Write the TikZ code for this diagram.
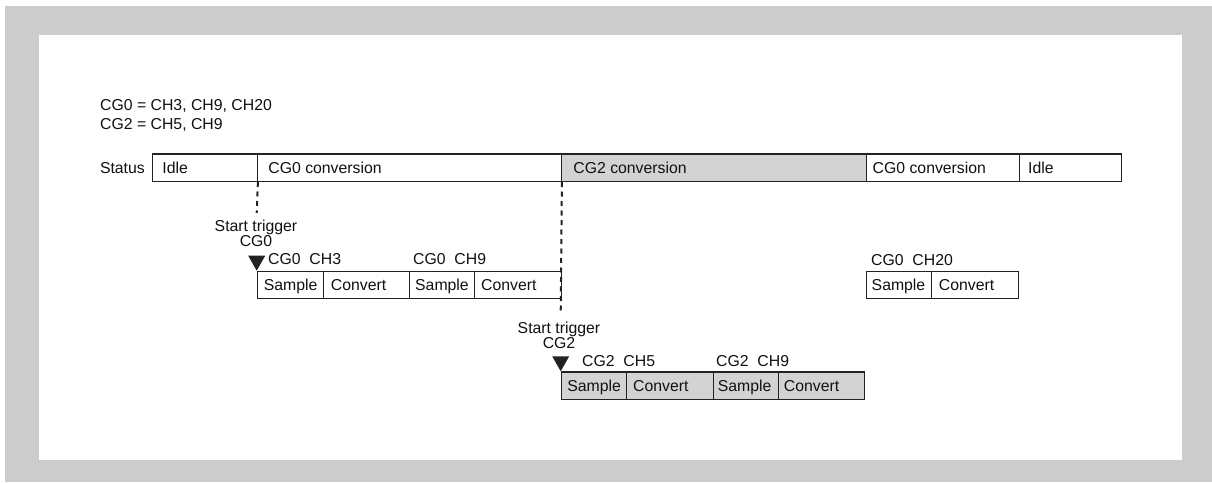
\documentclass[tikz,border=0pt]{standalone}
\usepackage{fontspec}
\setmainfont{Liberation Sans}
\definecolor{bggray}{HTML}{CCCCCC}
\definecolor{cellgray}{HTML}{D3D3D3}
\definecolor{linec}{HTML}{222222}
\definecolor{txt}{HTML}{111111}
\begin{document}
\begin{tikzpicture}[x=1pt,y=-1pt,
  cell/.style={draw=linec, line width=1.2pt, inner sep=0pt, minimum height=27.4pt, anchor=north west},
  graycell/.style={cell, fill=cellgray},
  lbl/.style={inner sep=0pt, font=\fontsize{15.8}{18}\selectfont, text=txt},
  celltxt/.style={lbl, anchor=base west},
  dashline/.style={draw=linec, line width=2pt, dash pattern=on 5pt off 4.5pt},
  trig/.style={fill=linec, draw=none}
]
\useasboundingbox (0,0) rectangle (1212,482);
\fill[bggray] (5,6) rectangle (1212,482);
\fill[white] (39,35) rectangle (1182,460);

% definitions
\node[lbl, anchor=base west] (def0) at (100,110.5) {CG0 = CH3, CH9, CH20};
\node[lbl, anchor=base west] (def2) at (100,129) {CG2 = CH5, CH9};

% status bar
\node[lbl, anchor=base east] (status) at (145,173) {Status};
\node[cell, minimum width=105pt] (idleA) at (151.7,153.4) {};
\node[cell, minimum width=304pt] (convA) at (256.7,153.4) {};
\node[graycell, minimum width=305.3pt] (convB) at (560.7,153.4) {};
\node[cell, minimum width=153pt] (convC) at (866,153.4) {};
\node[cell, minimum width=102pt] (idleB) at (1019,153.4) {};
\node[celltxt] (tidleA) at ([xshift=10.5pt,yshift=-5.75pt]idleA.west) {Idle};
\node[celltxt] (tconvA) at ([xshift=11.5pt,yshift=-5.75pt]convA.west) {CG0 conversion};
\node[celltxt] (tconvB) at ([xshift=12.5pt,yshift=-5.75pt]convB.west) {CG2 conversion};
\node[celltxt] (tconvC) at ([xshift=6.5pt,yshift=-5.75pt]convC.west) {CG0 conversion};
\node[celltxt] (tidleB) at ([xshift=9pt,yshift=-5.75pt]idleB.west) {Idle};

% CG0 row
\node[cell, minimum width=66pt] (sA1) at (256.7,270.7) {};
\node[cell, minimum width=86.3pt] (cA1) at (322.7,270.7) {};
\node[cell, minimum width=65pt] (sA2) at (409,270.7) {};
\node[cell, minimum width=86.7pt] (cA2) at (474,270.7) {};
\node[celltxt] (tsA1) at ([xshift=7pt,yshift=-5.75pt]sA1.west) {Sample};
\node[celltxt] (tcA1) at ([xshift=8pt,yshift=-5.75pt]cA1.west) {Convert};
\node[celltxt] (tsA2) at ([xshift=6pt,yshift=-5.75pt]sA2.west) {Sample};
\node[celltxt] (tcA2) at ([xshift=7pt,yshift=-5.75pt]cA2.west) {Convert};
\node[lbl, anchor=base west] (chA1) at (268,264.5) {CG0~~CH3};
\node[lbl, anchor=base west] (chA2) at (413,264.5) {CG0~~CH9};

% CG0 CH20 row
\node[cell, minimum width=64.7pt] (sC1) at (866,270.7) {};
\node[cell, minimum width=87pt] (cC1) at (930.7,270.7) {};
\node[celltxt] (tsC1) at ([xshift=5.5pt,yshift=-5.75pt]sC1.west) {Sample};
\node[celltxt] (tcC1) at ([xshift=8pt,yshift=-5.75pt]cC1.west) {Convert};
\node[lbl, anchor=base west] (chC1) at (871,265) {CG0~~CH20};

% CG2 row
\node[graycell, minimum width=65.3pt] (sB1) at (560.7,371.3) {};
\node[graycell, minimum width=86.7pt] (cB1) at (626,371.3) {};
\node[graycell, minimum width=65pt] (sB2) at (712.7,371.3) {};
\node[graycell, minimum width=86.3pt] (cB2) at (777.7,371.3) {};
\node[celltxt] (tsB1) at ([xshift=6.5pt,yshift=-5.75pt]sB1.west) {Sample};
\node[celltxt] (tcB1) at ([xshift=7pt,yshift=-5.75pt]cB1.west) {Convert};
\node[celltxt] (tsB2) at ([xshift=5pt,yshift=-5.75pt]sB2.west) {Sample};
\node[celltxt] (tcB2) at ([xshift=6pt,yshift=-5.75pt]cB2.west) {Convert};
\node[lbl, anchor=base west] (chB1) at (582,366) {CG2~~CH5};
\node[lbl, anchor=base west] (chB2) at (716,366) {CG2~~CH9};

% triggers
\coordinate (dAend) at (256.7,213);
\coordinate (dBend) at (560.7,313);
\draw[dashline] (idleA.south east) -- (dAend);
\draw[dashline] (convA.south east) -- (dBend);
\node[lbl, anchor=base] (stA1) at (256,231.7) {Start trigger};
\node[lbl, anchor=base] (stA2) at (256,246.5) {CG0};
\node[lbl, anchor=base] (stB1) at (559,333.3) {Start trigger};
\node[lbl, anchor=base] (stB2) at (559,348.3) {CG2};
\fill[trig] ([xshift=-8.5pt,yshift=15pt]sA1.north west) -- ([xshift=8.5pt,yshift=15pt]sA1.north west) -- (sA1.north west) -- cycle;
\fill[trig] ([xshift=-8.5pt,yshift=15pt]sB1.north west) -- ([xshift=8.5pt,yshift=15pt]sB1.north west) -- (sB1.north west) -- cycle;
\end{tikzpicture}
\end{document}
